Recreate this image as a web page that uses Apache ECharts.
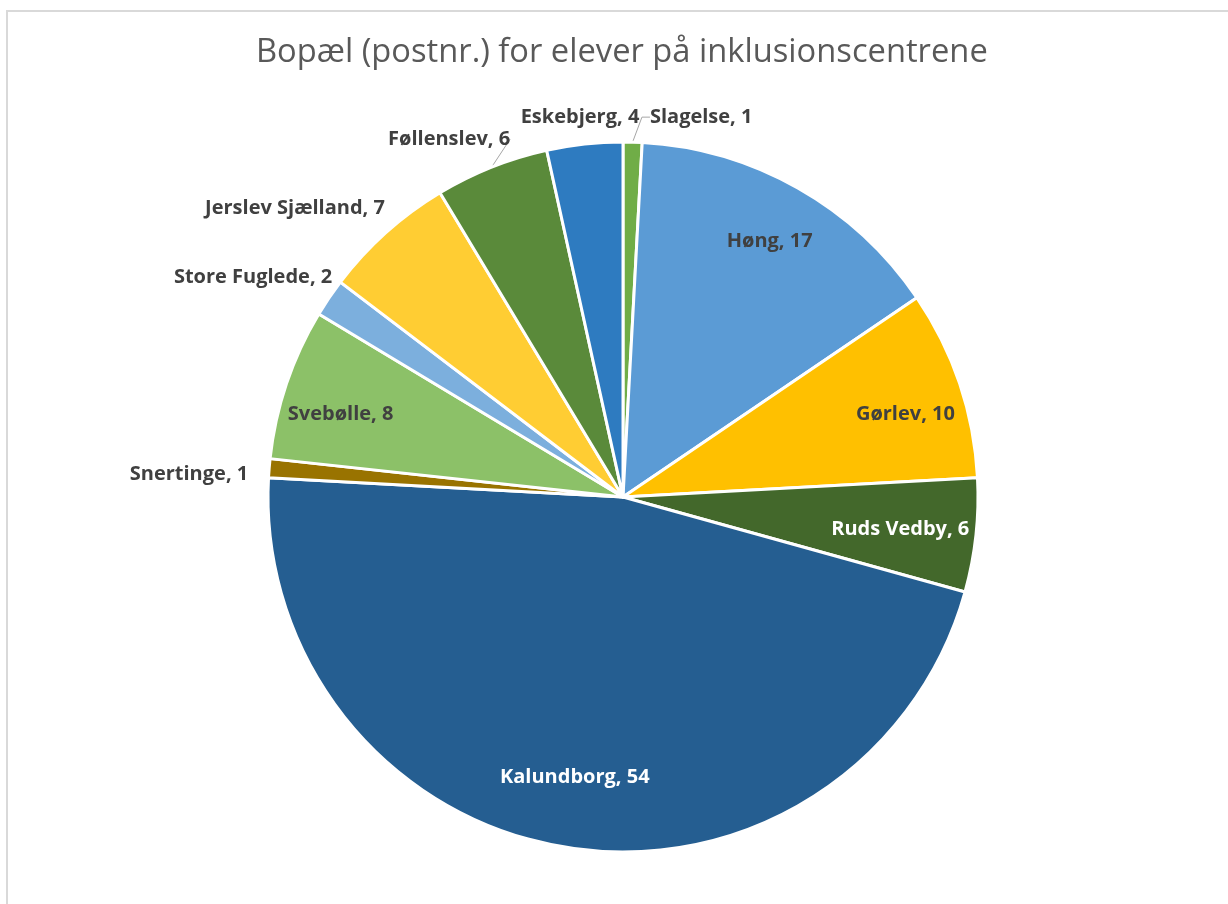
<!DOCTYPE html>
<html>
<head>
<meta charset="utf-8">
<style>
  html, body { margin: 0; padding: 0; background: #fff; }
  #chart { width: 1228px; height: 904px; }
</style>
<script src="https://cdn.jsdelivr.net/npm/echarts@6/dist/echarts.min.js"></script>
</head>
<body>
<div id="chart"></div>
<script>
// 数据
const names = ['Slagelse', 'Høng', 'Gørlev', 'Ruds Vedby', 'Kalundborg', 'Snertinge',
    'Svebølle', 'Store Fuglede', 'Jerslev Sjælland', 'Føllenslev', 'Eskebjerg'];
const values = [1, 17, 10, 6, 54, 1, 8, 2, 7, 6, 4];
const sliceColors = ['#70AD47', '#5B9BD5', '#FFC000', '#43682B', '#255E91', '#997300',
    '#8CC168', '#7CAFDD', '#FFCD33', '#5A8A3A', '#2E7BC0'];
// 标签在扇区内部?
const inside = [false, true, true, true, true, false, true, false, false, false, false];
const insideTextColor = [null, '#404040', '#404040', '#fff', '#fff', null, '#404040', null, null, null, null];
const showLeader = [true, false, false, false, false, false, false, false, false, true, false];
// 标签微调 (px)
const labelNudge = [[4, -13], [0, 4], [0, 12], [-19, 0], [0, -14], [4, 7], [0, 12], [26, -14], [20, -16], [36, -17], [69, -15]];

const labelFont = {
    fontFamily: 'Open Sans, sans-serif',
    fontWeight: 'bold',
    fontSize: 20,
    color: '#404040'
};

const nudgeInside = (params) => {
    const n = labelNudge[params.dataIndex];
    return n ? { dx: n[0], dy: n[1] } : {};
};
// 外部标签: 用绝对位置, 让引导线重新连接
const nudgeOutside = (params) => {
    const n = labelNudge[params.dataIndex];
    const r = params.labelRect;
    if (!n || !r) return {};
    return { x: r.x + n[0], y: r.y + n[1], align: 'left', verticalAlign: 'top' };
};

const chart = echarts.init(document.getElementById('chart'));

const center = [623, 497];
const R = 355;

chart.setOption({
    backgroundColor: '#fff',
    title: {
        text: 'Bopæl (postnr.) for elever på inklusionscentrene',
        left: 251,
        top: 31,
        textStyle: {
            fontFamily: 'Open Sans, sans-serif',
            fontWeight: 'normal',
            fontSize: 32.7,
            color: '#595959'
        }
    },
    graphic: [{
        type: 'rect',
        shape: { x: 7, y: 11, width: 1400, height: 1000 },
        style: { fill: 'none', stroke: '#d9d9d9', lineWidth: 2 },
        silent: true
    }],
    series: [{
        type: 'pie',
        center: center,
        radius: R,
        startAngle: 90,
        clockwise: true,
        avoidLabelOverlap: false,
        animation: false,
        itemStyle: { borderColor: '#fff', borderWidth: 3 },
        label: { ...labelFont, position: 'outside', formatter: '{b}, {c}' },
        labelLine: { length: 12, length2: 8, lineStyle: { color: '#a6a6a6', width: 1 } },
        labelLayout: nudgeOutside,
        data: names.map((n, i) => ({
            name: n,
            value: values[i],
            itemStyle: { color: sliceColors[i] },
            label: { show: !inside[i] },
            labelLine: { show: showLeader[i] }
        }))
    }, {
        // 内部标签层
        type: 'pie',
        center: center,
        radius: [235, R],
        startAngle: 90,
        clockwise: true,
        silent: true,
        animation: false,
        itemStyle: { color: 'rgba(0,0,0,0)', borderWidth: 0 },
        label: { ...labelFont, position: 'inside', overflow: 'none', formatter: '{b}, {c}' },
        labelLine: { show: false },
        labelLayout: nudgeInside,
        data: names.map((n, i) => ({
            name: n,
            value: values[i],
            label: { show: inside[i], color: insideTextColor[i] || '#404040' }
        }))
    }]
});
</script>
</body>
</html>
